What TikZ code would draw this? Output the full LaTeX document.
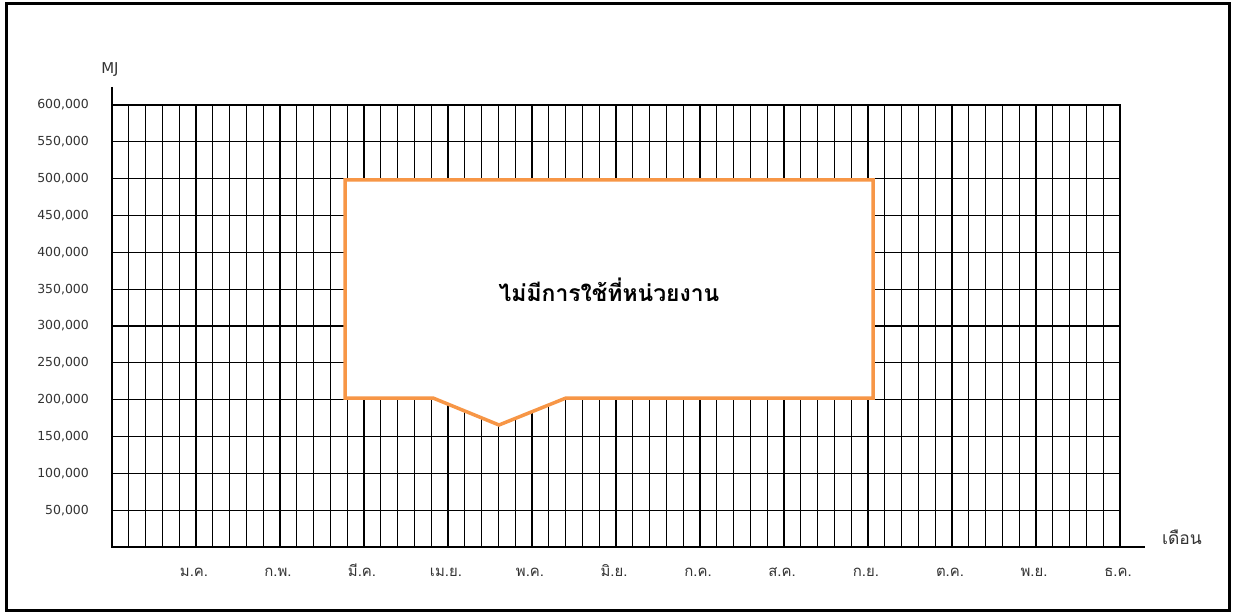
\documentclass[tikz,border=0pt]{standalone}
\usepackage{fontspec}
\setmainfont{DejaVu Sans}
\newfontfamily\thai[Script=Thai]{Loma}
\definecolor{boxor}{HTML}{F79646}
\definecolor{lbl}{HTML}{333333}
\tikzset{
  thingrid/.style={line width=1.1bp, black},
  thickgrid/.style={line width=2.4bp, black},
  hgrid/.style={line width=1.1bp, black},
  axisline/.style={line width=2.6bp, black},
  frameline/.style={line width=3bp, black},
  boxline/.style={line width=3.5bp, draw=boxor, fill=white, line join=miter},
  ylab/.style={anchor=east, inner sep=0pt, text=lbl, font=\fontsize{12.5}{14}\selectfont},
  mlab/.style={anchor=base, inner sep=0pt, text=lbl, font=\thai\fontsize{15}{17}\selectfont},
}
\begin{document}
\begin{tikzpicture}[x=1bp,y=-1bp]
\useasboundingbox (0,0) rectangle (1233,615);
\draw[frameline] (6.5,3.5) rectangle (1229.5,610.5);
% grid
\foreach \k in {1,...,60} \draw[thingrid] ({112+16.8*\k},105) -- ({112+16.8*\k},547);
\foreach \k in {5,10,...,60} \draw[thickgrid] ({112+16.8*\k},105) -- ({112+16.8*\k},547);
\foreach \j in {0,...,11} \draw[hgrid] (112,{105+36.8333*\j}) -- (1121,{105+36.8333*\j});
% axes
\coordinate (ytop) at (112,87);
\coordinate (orig) at (112,547);
\coordinate (xend) at (1145,547);
\draw[axisline] (ytop) -- (orig) -- (xend);
% y labels
\foreach \v [count=\i from 0] in {600,550,500,450,400,350,300,250,200,150,100,50}
  \node[ylab] (y\i) at (89,{105+36.8333*\i}) {\v,000};
\node[inner sep=0pt, text=lbl, font=\fontsize{15}{17}\selectfont] (mj) at (110,70) {MJ};
% month labels
\foreach \m [count=\i from 0] in {ม.ค.,ก.พ.,มี.ค.,เม.ย.,พ.ค.,มิ.ย.,ก.ค.,ส.ค.,ก.ย.,ต.ค.,พ.ย.,ธ.ค.}
  \node[mlab] (m\i) at ({194+84*\i},576.5) {\m};
\node[inner sep=0pt, text=lbl, font=\thai\fontsize{17.5}{20}\selectfont] (xl) at (1182,537) {เดือน};
% box
\draw[boxline] (345,180) -- (873,180) -- (873,398) -- (566,398) -- (499,425) -- (433,398) -- (345,398) -- cycle;
\node[inner sep=0pt, font=\thai\bfseries\fontsize{23}{26}\selectfont] (note) at (609,290) {ไม่มีการใช้ที่หน่วยงาน};
\end{tikzpicture}
\end{document}
